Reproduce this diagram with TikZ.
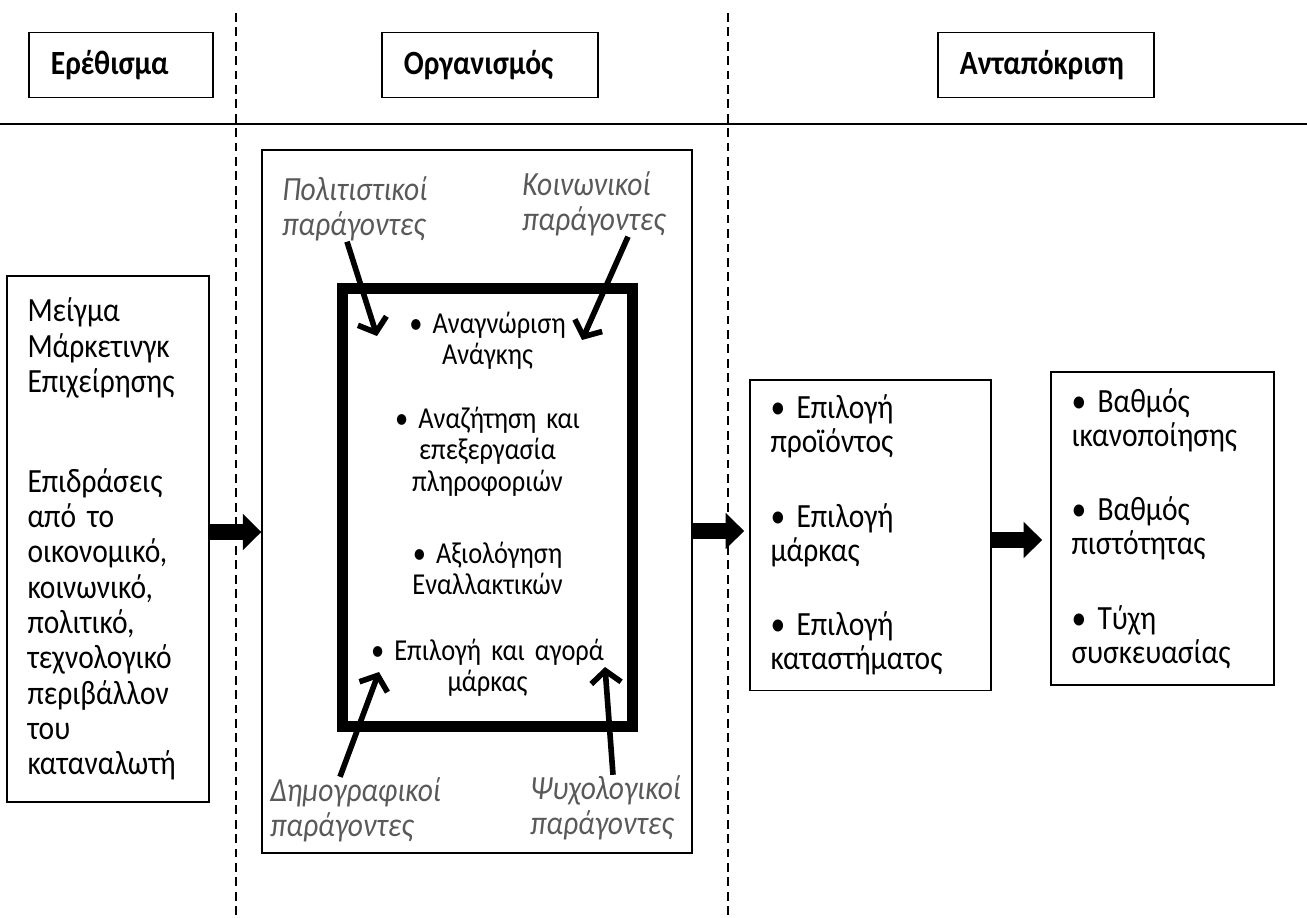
\documentclass[tikz,border=0pt]{standalone}
\usepackage{fontspec}
\setmainfont{Carlito}[FakeStretch=0.87, WordSpace=0.8]
\usetikzlibrary{arrows.meta}
\definecolor{factorgray}{RGB}{89,89,89}

\begin{document}
\begin{tikzpicture}[x=0.02cm, y=-0.02cm,
    header/.style={draw=black, line width=1.1pt, minimum height=1.3cm, inner xsep=0.44cm, align=left, anchor=west, font=\fontsize{19.3}{20}\selectfont\bfseries},
    stage/.style={draw=black, line width=1.1pt, inner xsep=0.41cm, align=left, font=\fontsize{19.3}{19.5}\selectfont},
    item/.style={anchor=base, text width=5.4cm, align=center, inner sep=0pt, font=\fontsize{17.3}{18.1}\selectfont},
    factor/.style={anchor=base west, text width=3.6cm, align=left, inner sep=0pt, text=factorgray, font=\fontsize{19.3}{20.4}\selectfont\itshape},
    factorarrow/.style={line width=3.2pt, -{Straight Barb[length=7pt, width=17pt]}},
    blockarrow/.style={line width=9pt, -{Triangle[length=10.5pt, width=20pt]}},
    divider/.style={line width=1.2pt, dash pattern=on 5pt off 3.2pt}]

  \useasboundingbox (0,0) rectangle (1307,917);

  \draw[divider] (236,13) -- (236,917);
  \draw[divider] (728,13) -- (728,917);
  \draw[line width=1.2pt] (0,124) -- (1307,124);

  \node[header, text width=2.8cm] (stim) at (28,65) {Ερέθισμα};
  \node[header, text width=3.44cm] (orgh) at (381,65) {Οργανισμός};
  \node[header, text width=3.44cm] (resp) at (937,65) {Ανταπόκριση};

  \node[stage, text width=3.22cm, minimum height=10.52cm, font=\fontsize{19.3}{20.1}\selectfont] (mix) at (108,539) {Μείγμα\\Μάρκετινγκ\\Επιχείρησης\\[1.29cm]Επιδράσεις\\από το\\οικονομικό,\\κοινωνικό,\\πολιτικό,\\τεχνολογικό\\περιβάλλον\\του\\καταναλωτή};

  \node[draw=black, line width=0.8pt, minimum width=8.6cm, minimum height=14.06cm] (org) at (477,501.5) {};
  \node[draw=black, line width=6.2pt, minimum width=5.8cm, minimum height=8.76cm] (proc) at (487.5,507.5) {};

  \node[item] (need) at (487.5,333) {• Αναγνώριση\\Ανάγκης};
  \node[item] (search) at (487.5,428) {• Αναζήτηση και\\επεξεργασία\\πληροφοριών};
  \node[item] (eval) at (487.5,563) {• Αξιολόγηση\\Εναλλακτικών};
  \node[item] (buy) at (487.5,660) {• Επιλογή και αγορά\\μάρκας};

  \node[factor] (cult) at (282,200) {Πολιτιστικοί\\παράγοντες};
  \node[factor] (soc) at (522,195) {Κοινωνικοί\\παράγοντες};
  \node[factor] (demo) at (270,801) {Δημογραφικοί\\παράγοντες};
  \node[factor] (psy) at (530,799) {Ψυχολογικοί\\παράγοντες};

  \coordinate (cultend) at (377,336);
  \coordinate (socend) at (582,340);
  \coordinate (demoend) at (379,672);
  \coordinate (psyend) at (605,667);

  \draw[factorarrow] (cult.south -| 347,0) -- (cultend);
  \draw[factorarrow] (soc.south -| 628,0) -- (socend);
  \draw[factorarrow] (demo.north -| 340,0) -- (demoend);
  \draw[factorarrow] (psy.north -| 613,0) -- (psyend);

  \node[stage, text width=4cm, minimum height=6.22cm] (choice) at (870.5,535) {• Επιλογή\\προϊόντος\\[0.8cm]• Επιλογή\\μάρκας\\[0.8cm]• Επιλογή\\καταστήματος};
  \node[stage, text width=3.64cm, minimum height=6.26cm] (sat) at (1162.5,528.5) {• Βαθμός\\ικανοποίησης\\[0.8cm]• Βαθμός\\πιστότητας\\[0.8cm]• Τύχη\\συσκευασίας};

  \draw[blockarrow] (mix.east |- 0,532) -- (org.west |- 0,532);
  \draw[blockarrow, shorten >=2.8pt] (org.east |- 0,531) -- (choice.west |- 0,531);
  \draw[blockarrow, shorten >=4.5pt] (choice.east |- 0,540) -- (sat.west |- 0,540);
\end{tikzpicture}
\end{document}
